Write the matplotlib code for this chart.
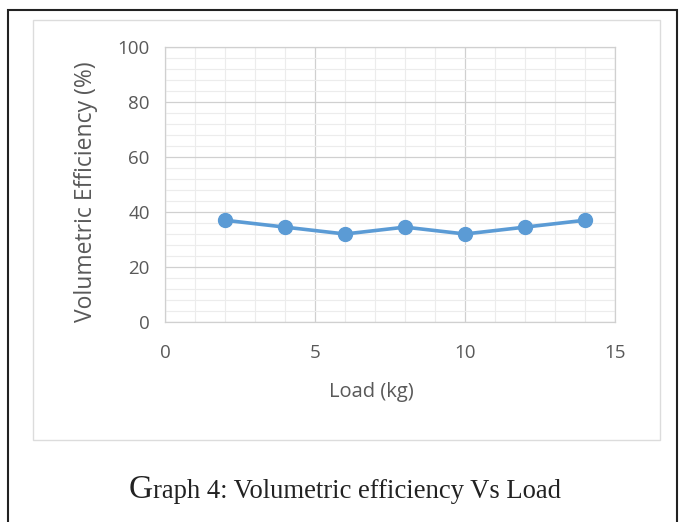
import matplotlib
matplotlib.use("Agg")
import matplotlib.pyplot as plt
from matplotlib.patches import Rectangle
from matplotlib.ticker import MultipleLocator

load = [2, 4, 6, 8, 10, 12, 14]
vol_eff = [37, 34.5, 32, 34.5, 32, 34.5, 37]
xticks = [0, 5, 10, 15]
yticks = [0, 20, 40, 60, 80, 100]

W, H = 681, 522
fig = plt.figure(figsize=(W/100, H/100), dpi=100)
fig.patch.set_facecolor("white")

# outer black frame
fig.patches.append(Rectangle((8/W, -2/H), (677-8)/W, (514)/H, transform=fig.transFigure,
                             fill=False, edgecolor="#222222", linewidth=1.5))
# inner chart frame
fig.patches.append(Rectangle((33/W, (522-440)/H), (660-33)/W, (440-20)/H, transform=fig.transFigure,
                             fill=False, edgecolor="#dcdcdc", linewidth=1.0))

ax = fig.add_axes([165/W, (522-322)/H, (615-165)/W, (322-47)/H])
ax.plot(load, vol_eff, color="#5B9BD5", linewidth=2.6, marker="o", markersize=10,
        markerfacecolor="#5B9BD5", markeredgecolor="#5B9BD5")
ax.set_xlim(0, 15)
ax.set_ylim(0, 100)
ax.set_xticks(xticks)
ax.set_yticks(yticks)
ax.xaxis.set_minor_locator(MultipleLocator(1))
ax.yaxis.set_minor_locator(MultipleLocator(4))
ax.grid(which="major", color="#d0d0d0", linewidth=0.9)
ax.grid(which="minor", color="#ececec", linewidth=0.8)
ax.set_axisbelow(True)
for s in ax.spines.values():
    s.set_color("#d0d0d0")
    s.set_linewidth(0.9)
ax.tick_params(which="both", length=0, colors="#595959", labelsize=13.5)
ax.tick_params(axis="x", pad=16)
ax.tick_params(axis="y", pad=11)
for lab in ax.get_xticklabels() + ax.get_yticklabels():
    lab.set_family("Open Sans")
ax.set_xlabel("Load (kg)", family="Open Sans", fontsize=14.5, color="#595959", va="center")
ax.set_ylabel("Volumetric Efficiency (%)", family="Open Sans", fontsize=16.5, color="#595959", va="center")
ax.xaxis.set_label_coords(0.5 + (371-390)/450, (322-392)/275)
ax.yaxis.set_label_coords((86-165)/450, (322-192)/275)

# caption with enlarged initial letter
fig.canvas.draw()
r = fig.canvas.get_renderer()
base = (522-498)/H
tG = fig.text(0, base, "G", family="Liberation Serif", fontsize=24, color="#222222",
              ha="left", va="baseline")
tR = fig.text(0, base, "raph 4: Volumetric efficiency Vs Load", family="Liberation Serif",
              fontsize=19.2, color="#222222", ha="left", va="baseline")
wG = tG.get_window_extent(r).width
x0 = 129
tG.set_x(x0/W)
tR.set_x((x0 + wG)/W)

fig.savefig("out.png", dpi=100)
